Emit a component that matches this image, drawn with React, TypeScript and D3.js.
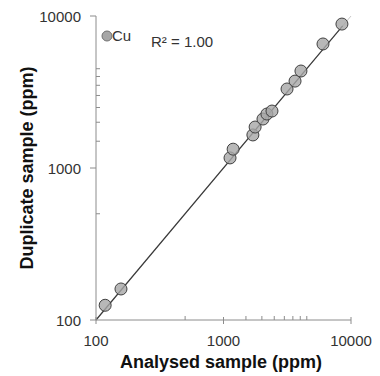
import React from "react";
import * as d3 from "d3";

const analysed = [118, 157, 1125, 1190, 1700, 1770, 2040, 2190, 2400, 3150, 3640, 4050, 6030, 8490];
const duplicate = [125, 160, 1165, 1330, 1650, 1860, 2100, 2265, 2370, 3310, 3730, 4345, 6545, 8850];
const majorTicks = [100, 1000, 10000];
const minorTicks = [500, 1500, 2000, 2500, 3000, 3500, 4000, 4500];
const fitRange = [100, 8600];
const r2Label = "R² = 1.00";
const seriesName = "Cu";

export default function App() {
  const W = 380, H = 376;
  const x = d3.scaleLog().domain([100, 10000]).range([96, 351]);
  const y = d3.scaleLog().domain([100, 10000]).range([320, 16]);
  const axisColor = "#8c8c8c";
  const textColor = "#333";
  const font = "'Liberation Sans', Arial, sans-serif";
  const line = d3.line<number>().x((d) => x(d)).y((d) => y(d));
  return (
    <svg width={W} height={H} style={{ position: "absolute", left: 0, top: 0, background: "#fff" }}>
      <path d={line([100, 10000]) ?? ""} stroke="#c8c8c8" strokeWidth={1} fill="none" />
      <path d={line(fitRange) ?? ""} stroke="#3a3a3a" strokeWidth={1.2} fill="none" />
      <line x1={x(100)} x2={x(100)} y1={y(10000)} y2={y(100)} stroke={axisColor} />
      <line x1={x(100)} x2={x(10000)} y1={y(100)} y2={y(100)} stroke={axisColor} />
      {majorTicks.map((t) => (
        <g key={"my" + t}>
          <line x1={x(100) - 6} x2={x(100)} y1={y(t)} y2={y(t)} stroke={axisColor} />
          <text x={81} y={y(t) + 6} textAnchor="end" fontSize={15} fontFamily={font} fill={textColor}>{t}</text>
        </g>
      ))}
      {majorTicks.map((t) => (
        <g key={"mx" + t}>
          <line x1={x(t)} x2={x(t)} y1={y(100) - 3} y2={y(100) + 4} stroke={axisColor} />
          <text x={x(t)} y={346} textAnchor="middle" fontSize={15} fontFamily={font} fill={textColor}>{t}</text>
        </g>
      ))}
      {minorTicks.map((t) => (
        <g key={"mn" + t}>
          <line x1={x(100)} x2={x(100) + 4} y1={y(t)} y2={y(t)} stroke={axisColor} />
          <line x1={x(t)} x2={x(t)} y1={y(100)} y2={y(100) - 4} stroke={axisColor} />
        </g>
      ))}
      {analysed.map((a, i) => (
        <circle key={i} cx={x(a)} cy={y(duplicate[i])} r={6} fill="#a6a6a6" fillOpacity={0.8} stroke="#404040" strokeWidth={1} />
      ))}
      <circle cx={107} cy={36} r={5} fill="#a6a6a6" stroke="#707070" strokeWidth={1} />
      <text x={112} y={41} fontSize={15} fontFamily={font} fill={textColor}>{seriesName}</text>
      <text x={151} y={47} fontSize={15} fontFamily={font} fill={textColor}>{r2Label}</text>
      <text x={221} y={368} textAnchor="middle" fontSize={18} fontWeight="bold" fontFamily={font} fill="#111">Analysed sample (ppm)</text>
      <text transform={`translate(33,168) rotate(-90)`} textAnchor="middle" fontSize={18} fontWeight="bold" fontFamily={font} fill="#111">Duplicate sample (ppm)</text>
    </svg>
  );
}
